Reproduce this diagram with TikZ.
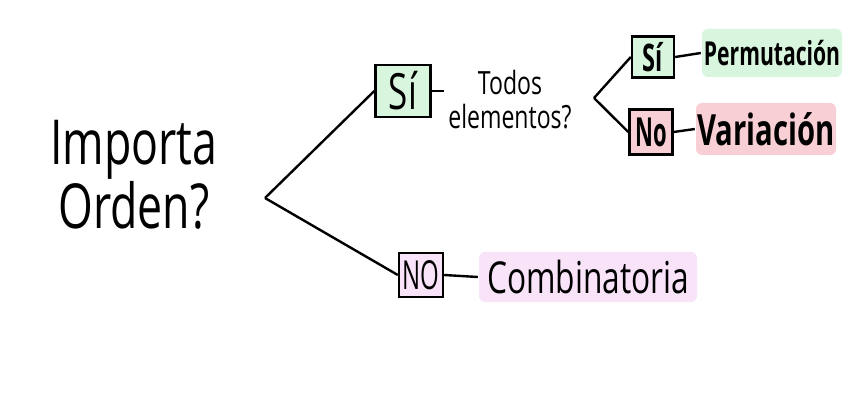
\documentclass[tikz,border=0pt]{standalone}
\usepackage{fontspec}
\setmainfont{Open Sans}
\definecolor{sigreen}{HTML}{D8F5DE}
\definecolor{nored}{HTML}{F8CFD4}
\definecolor{combpink}{HTML}{F9E3F9}
% narrow, tall letters like the hand lettering
\newcommand{\hand}[2][0.72]{\scalebox{#1}[1]{#2}}

\begin{document}
\begin{tikzpicture}[
    x=1pt, y=-1pt,
    line width=2.4pt,
    box/.style={draw, inner sep=0pt},
    result/.style={rounded corners=6pt, inner sep=0pt},
    question/.style={align=center}
]

\useasboundingbox (0,0) rectangle (848,403);

% first question
\node [question, font=\fontsize{62}{64}\selectfont] (orden) at (134,175) {\hand{Importa}\\\hand{Orden?}};
\coordinate (b1) at (265,198);

\node [box, fill=sigreen, minimum width=55, minimum height=52, font=\fontsize{50}{52}\selectfont] (si1) at (403,91) {\hand[0.7]{Sí}};
\node [box, fill=combpink, minimum width=44, minimum height=44, font=\fontsize{40}{42}\selectfont] (no1) at (421,275) {\hand[0.6]{NO}};

\draw (b1) -- (si1.west);
\draw (b1) -- (no1.west);

% second question
\node [question, font=\fontsize{32}{34}\selectfont] (todos) at (510,100) {\hand{Todos}\\\hand{elementos?}};
\draw (si1.east) -- (si1.east -| todos.west);
\coordinate (b2) at (594,98);

\node [box, fill=sigreen, minimum width=42, minimum height=41, font=\bfseries\fontsize{38}{40}\selectfont] (si2) at (653,57) {\hand[0.62]{Sí}};
\node [box, fill=nored, minimum width=43, minimum height=45, font=\bfseries\fontsize{40}{42}\selectfont] (no2) at (651,132) {\hand[0.55]{No}};

\draw (b2) -- (si2.west);
\draw (b2) -- (no2.west);

% results
\node [result, fill=sigreen, minimum width=140, minimum height=48, font=\bfseries\fontsize{33}{35}\selectfont] (perm) at (772,53) {\hand[0.64]{Permutación}};
\node [result, fill=nored, minimum width=140, minimum height=52, font=\bfseries\fontsize{43}{45}\selectfont] (var) at (766,129) {\hand[0.68]{Variación}};
\node [result, fill=combpink, minimum width=218, minimum height=50, font=\fontsize{44}{46}\selectfont] (comb) at (588,277) {\hand{Combinatoria}};

\draw (si2.east) -- (perm.west);
\draw (no2.east) -- (var.west);
\draw (no1.east) -- (comb.west);

\end{tikzpicture}
\end{document}
